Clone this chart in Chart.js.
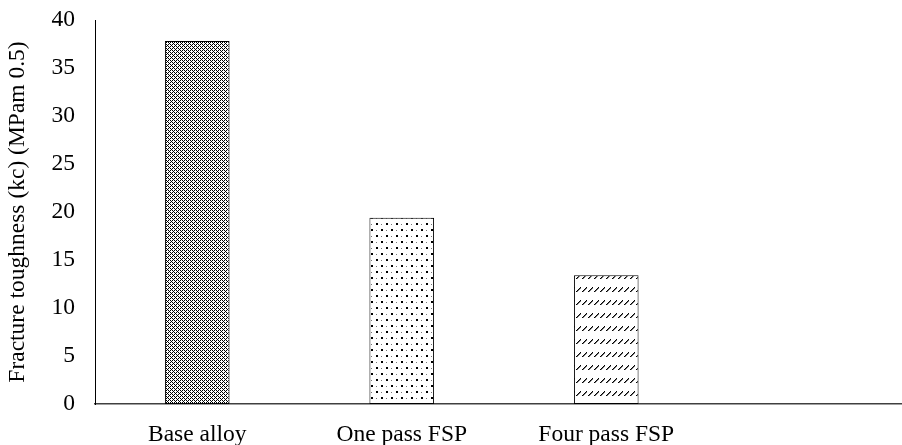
<!DOCTYPE html>
<html>
<head>
<meta charset="utf-8">
<script src="https://cdn.jsdelivr.net/npm/chart.js@4"></script>
<style>
  html, body { margin: 0; padding: 0; background: #fff; overflow: hidden; }
  #wrap { width: 920px; height: 445px; }
</style>
</head>
<body>
<div id="wrap"><canvas id="c" width="920" height="445"></canvas></div>
<script>
// Fracture toughness per processing condition
const categories = ['Base alloy', 'One pass FSP', 'Four pass FSP', ''];
const toughness = [37.8, 19.4, 13.4, null];
const yTicks = [0, 5, 10, 15, 20, 25, 30, 35, 40];
const yTitle = 'Fracture toughness (kc) (MPam 0.5)';

// Build a small repeating tile from lists of dark pixels
function makePattern(w, h, dark, mid) {
  const p = document.createElement('canvas');
  p.width = w; p.height = h;
  const g = p.getContext('2d');
  g.fillStyle = '#fff';
  g.fillRect(0, 0, w, h);
  g.fillStyle = '#000';
  dark.forEach(([x, y]) => g.fillRect(x, y, 1, 1));
  g.fillStyle = '#777';
  (mid || []).forEach(([x, y]) => g.fillRect(x, y, 1, 1));
  return g.createPattern(p, 'repeat');
}
// dense lattice with white crosses
const latticeFill = makePattern(4, 4,
  [[0,0],[2,0],[3,1],[0,2],[2,2],[1,3]]);
// staggered dots
const dotFill = makePattern(10, 12,
  [[1,1],[2,1],[1,2],[2,2],[6,7],[7,7],[6,8],[7,8]],
  [[6,2],[1,8]]);
// rows of short slashes
const slashFill = makePattern(6, 13,
  [[0,5],[1,4],[2,3],[3,2],[4,1]],
  [[1,5],[2,4],[3,3],[4,2]]);

const fills = [latticeFill, dotFill, slashFill, '#fff'];
const font = { family: '"Liberation Serif", "Times New Roman", serif', size: 23.5 };

new Chart(document.getElementById('c'), {
  type: 'bar',
  data: {
    labels: categories,
    datasets: [{
      data: toughness,
      backgroundColor: fills,
      borderColor: '#000',
      borderWidth: 1,
      borderSkipped: false,
      categoryPercentage: 1,
      barPercentage: 0.316
    }]
  },
  options: {
    responsive: false,
    animation: false,
    events: [],
    layout: { padding: { top: 20, right: 7, left: 0, bottom: 0 } },
    plugins: { legend: { display: false }, tooltip: { enabled: false } },
    scales: {
      x: {
        grid: { display: false, drawTicks: false },
        border: { display: true, color: '#404040', width: 1.5 },
        ticks: { color: '#000', font: font, padding: 17, maxRotation: 0, autoSkip: false },
        afterFit: s => { s.height = 41; }
      },
      y: {
        min: 0, max: 40,
        afterBuildTicks: s => { s.ticks = yTicks.map(v => ({ value: v })); },
        grid: { display: false, drawTicks: false },
        border: { display: true, color: '#000', width: 1 },
        ticks: { color: '#000', font: font, padding: 20 },
        title: { display: true, text: yTitle, color: '#000', font: font, padding: { top: 4, bottom: 0 } },
        afterFit: s => { s.width = 95; s.paddingTop = 0; s.paddingBottom = 0; }
      }
    }
  }
});
</script>
</body>
</html>
